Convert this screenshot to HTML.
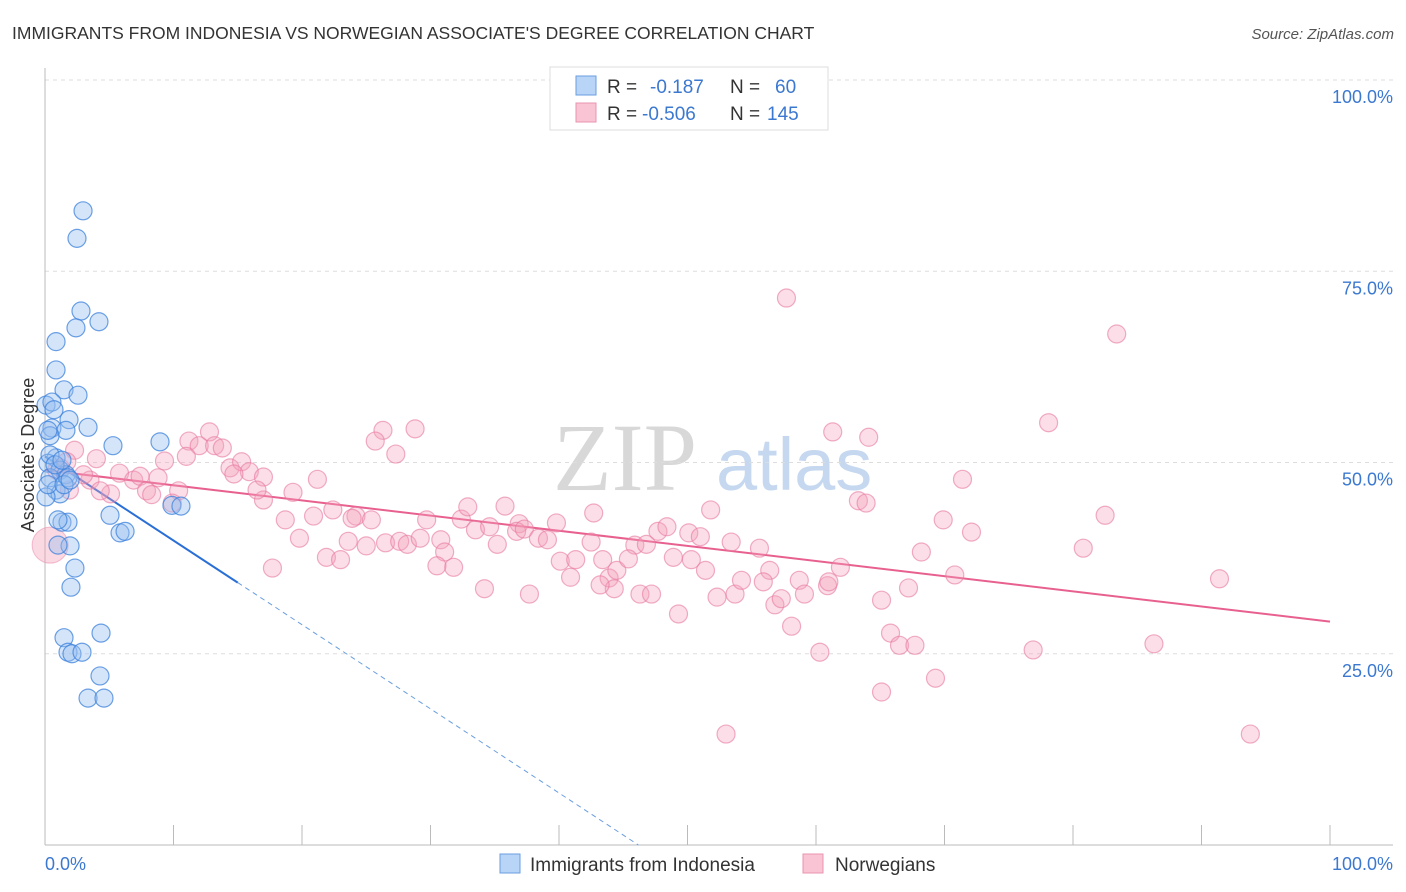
<!DOCTYPE html>
<html><head><meta charset="utf-8"><style>
body{margin:0;background:#fff}
svg{display:block;font-family:"Liberation Sans",sans-serif}
</style></head><body>
<svg id="chart" width="1406" height="892" viewBox="0 0 1406 892">
<text x="12" y="39" font-size="17.5" fill="#333">IMMIGRANTS FROM INDONESIA VS NORWEGIAN ASSOCIATE'S DEGREE CORRELATION CHART</text>
<text x="1394" y="39" font-size="15" fill="#555" font-style="italic" text-anchor="end">Source: ZipAtlas.com</text>
<g>
<text x="553" y="490" font-size="96" fill="#d8d8d8" font-family="Liberation Serif,serif">ZIP</text>
<text x="716" y="490" font-size="74" fill="#c5d8f0">atlas</text>
</g>
<g id="grid"></g>
<g id="axes"></g>
<g id="lines"></g>
<g id="pink"></g>
<g id="blue"></g>
<g>
<rect x="550" y="67" width="278" height="63" fill="#fff" stroke="#ddd"/>
<rect x="576" y="76" width="20" height="19" fill="#b8d4f6" stroke="#6a9ee0"/>
<rect x="576" y="103" width="20" height="19" fill="#f9c4d3" stroke="#ea94b0"/>
<text x="607" y="93" font-size="19" fill="#333">R =</text>
<text x="650" y="93" font-size="19" fill="#3b78d0">-0.187</text>
<text x="730" y="93" font-size="19" fill="#333">N =</text>
<text x="775" y="93" font-size="19" fill="#3b78d0">60</text>
<text x="607" y="120" font-size="19" fill="#333">R =</text>
<text x="642" y="120" font-size="19" fill="#3b78d0">-0.506</text>
<text x="730" y="120" font-size="19" fill="#333">N =</text>
<text x="767" y="120" font-size="19" fill="#3b78d0">145</text>
</g>
<g>
<rect x="500" y="854" width="20" height="19" fill="#b8d4f6" stroke="#6a9ee0"/>
<text x="530" y="871" font-size="19" fill="#333">Immigrants from Indonesia</text>
<rect x="803" y="854" width="20" height="19" fill="#f9c4d3" stroke="#ea94b0"/>
<text x="835" y="871" font-size="19" fill="#333">Norwegians</text>
</g>
<text transform="translate(34,455) rotate(-90)" font-size="18" fill="#333" text-anchor="middle">Associate's Degree</text>
</svg>
<script>
const yTicks=[25,50,75,100];
const yTickLabels=["25.0%","50.0%","75.0%","100.0%"];
const xTickLabels=["0.0%","100.0%"];
const blueX=[2.96,2.49,2.80,2.41,4.2,0.86,0.86,1.48,2.57,0.08,0.54,1.87,3.35,0.54,1.63,0.39,5.29,8.95,0.86,0.23,1.17,1.63,0.39,0.86,1.17,0.08,1.79,5.06,1.32,1.79,1.95,1.01,5.84,6.23,2.33,2.02,9.88,10.58,1.48,4.36,1.79,2.10,2.88,4.28,3.35,4.59,0.39,0.78,1.32,0.23,1.01,1.48,0.70,0.23,1.95];
const blueY=[82.9,79.3,69.8,67.6,68.4,65.8,62.1,59.5,58.8,57.5,57.9,55.6,54.6,54.5,54.2,53.5,52.2,52.7,50.6,49.9,49.0,48.4,48.0,46.4,45.9,45.5,48.0,43.1,42.2,42.2,39.1,39.2,40.8,41.0,36.2,33.7,44.4,44.3,27.1,27.7,25.2,25.0,25.2,22.1,19.2,19.2,51.0,49.7,50.3,47.1,42.5,47.1,56.9,54.2,47.7];
const pinkX=[57.7,83.4,78.1,26.3,28.8,12.8,61.3,64.1,25.7,27.3,11.2,12.0,13.2,13.8,11.0,9.3,4.0,2.3,14.4,15.3,15.9,17.0,21.2,19.3,17.0,14.7,8.8,5.8,6.9,7.4,3.5,5.1,7.9,8.3,10.4,9.9,16.5,71.4,18.7,20.9,19.8,22.4,24.2,25.4,23.9,23.6,25.0,26.5,27.6,28.2,29.2,29.7,30.8,31.1,31.8,32.4,32.9,33.5,34.6,35.2,35.8,36.9,36.7,37.3,38.4,39.1,39.8,40.1,40.9,41.3,37.7,34.2,17.7,21.9,23.0,42.7,42.5,43.4,43.9,44.3,44.5,45.9,45.4,46.8,46.3,47.2,47.7,48.4,48.9,49.3,50.1,50.3,51.0,51.8,51.4,52.3,53.0,53.4,53.7,54.2,55.6,56.4,55.9,56.8,57.3,58.1,58.7,59.1,60.3,60.9,61.9,61.0,63.3,63.9,65.1,65.1,65.8,66.5,67.7,67.2,68.2,69.3,69.9,70.8,72.1,76.9,80.8,82.5,86.3,91.4,93.8,1.2,0.9,1.7,1.9,3.0,4.3,30.5,43.2];
const pinkY=[71.5,66.8,55.2,54.2,54.4,54.0,54.0,53.3,52.8,51.1,52.8,52.2,52.2,51.9,50.8,50.2,50.5,51.6,49.3,50.1,48.8,48.1,47.8,46.1,45.1,48.5,48.0,48.6,47.7,48.2,47.7,45.9,46.3,45.8,46.3,44.7,46.4,47.8,42.5,43.0,40.1,43.8,43.0,42.5,42.7,39.7,39.1,39.5,39.7,39.3,40.1,42.5,39.9,38.3,36.3,42.6,44.2,41.2,41.6,39.3,44.3,42.0,41.0,41.3,40.1,39.9,42.1,37.1,35.0,37.3,32.8,33.5,36.2,37.6,37.3,43.4,39.6,37.3,34.9,33.5,35.9,39.2,37.4,39.3,32.8,32.8,41.0,41.6,37.6,30.2,40.8,37.3,40.3,43.8,35.9,32.4,14.5,39.6,32.8,34.6,38.8,35.9,34.4,31.4,32.2,28.6,34.6,32.8,25.2,33.9,36.3,34.4,45.0,44.7,32.0,20.0,27.7,26.1,26.1,33.6,38.3,21.8,42.5,35.3,40.9,25.5,38.8,43.1,26.3,34.8,14.5,49.3,49.0,50.1,46.4,48.4,46.3,36.5,34.0];
const bigPink=[0.4,39.2];
const blueTrend=[50.8,-1.1]; // intercept, slope
const pinkTrend=[49.0,-0.198];
const X0=45,X1=1330,Y0=845,Y100=80;
const sx=v=>X0+(X1-X0)*v/100;
const sy=v=>Y0-(Y0-Y100)*v/100;
const NS="http://www.w3.org/2000/svg";
function mk(parent,tag,attrs){const e=document.createElementNS(NS,tag);for(const k in attrs)e.setAttribute(k,attrs[k]);parent.appendChild(e);return e;}
const grid=document.getElementById('grid'),axes=document.getElementById('axes');
yTicks.forEach((t,i)=>{
  const l=mk(grid,'line',{x1:X0,x2:1393,y1:sy(t),y2:sy(t),stroke:'#ddd','stroke-dasharray':'4,4'});
  
  
  const tx=mk(axes,'text',{x:1393,y:sy(t)+23,'font-size':18,fill:'#3b78d0','text-anchor':'end'});
  tx.textContent=yTickLabels[i];
  
  
});
mk(axes,'line',{x1:X0,x2:X0,y1:68,y2:Y0,stroke:'#bbb'});
mk(axes,'line',{x1:X0,x2:1393,y1:Y0,y2:Y0,stroke:'#bbb'});
for(let i=0;i<=10;i++){mk(axes,'line',{x1:sx(i*10),x2:sx(i*10),y1:825,y2:Y0,stroke:'#bbb'});}
const xl0=mk(axes,'text',{x:45,y:870,'font-size':18,fill:'#3b78d0'});xl0.textContent=xTickLabels[0];


const xl1=mk(axes,'text',{x:1393,y:870,'font-size':18,fill:'#3b78d0','text-anchor':'end'});xl1.textContent=xTickLabels[1];


const pg=document.getElementById('pink'),bg=document.getElementById('blue');
const big=mk(pg,'circle',{cx:sx(bigPink[0]),cy:sy(bigPink[1]),r:18,fill:'rgba(244,160,186,0.4)',stroke:'rgba(232,130,165,0.5)'});


pinkX.forEach((x,i)=>{const c=mk(pg,'circle',{cx:sx(x),cy:sy(pinkY[i]),r:9,fill:'rgba(244,160,186,0.35)',stroke:'rgba(232,120,160,0.6)','stroke-width':1.2});

});
blueX.forEach((x,i)=>{const c=mk(bg,'circle',{cx:sx(x),cy:sy(blueY[i]),r:9,fill:'rgba(150,190,240,0.4)',stroke:'rgba(60,130,220,0.75)','stroke-width':1.2});

});
const lg=document.getElementById('lines');
const bz=-blueTrend[0]/blueTrend[1];
const l1=mk(lg,'line',{x1:sx(0),y1:sy(blueTrend[0]),x2:sx(15),y2:sy(blueTrend[0]+blueTrend[1]*15),stroke:'#2a6fd6','stroke-width':2});


const l2=mk(lg,'line',{x1:sx(15),y1:sy(blueTrend[0]+blueTrend[1]*15),x2:sx(bz),y2:sy(0),stroke:'#6a9ee0','stroke-width':1,'stroke-dasharray':'5,4'});


const l3=mk(lg,'line',{x1:sx(0),y1:sy(pinkTrend[0]),x2:sx(100),y2:sy(pinkTrend[0]+pinkTrend[1]*100),stroke:'#e8608f','stroke-width':2});


</script>
</body></html>
